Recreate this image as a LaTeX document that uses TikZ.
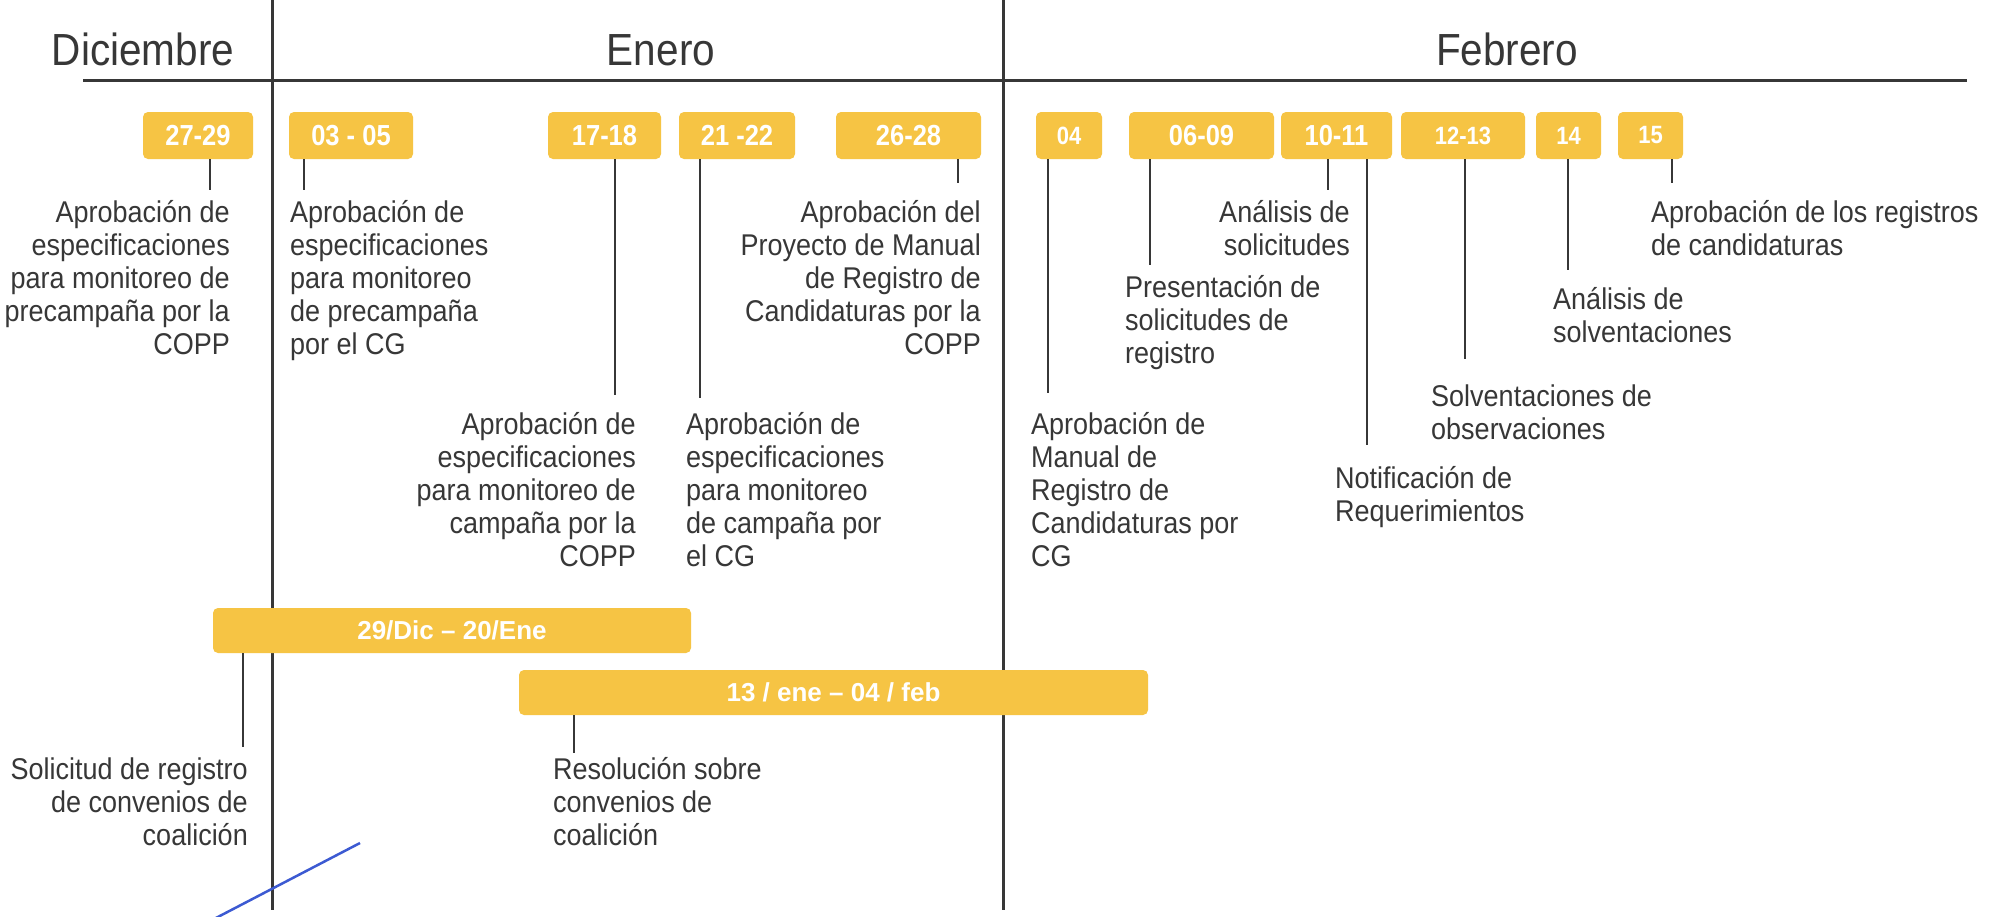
\documentclass[tikz,border=0pt]{standalone}
\usepackage{fontspec}
\setmainfont{Liberation Sans}[FakeStretch=0.9]
\newfontfamily\boxfont{Liberation Sans}[FakeStretch=0.88]
\newfontfamily\barfont{Liberation Sans}
\definecolor{gold}{RGB}{246,196,68}
\definecolor{ink}{RGB}{55,55,55}
\definecolor{pen}{RGB}{60,90,210}
\newcommand{\fl}{\rule{0pt}{30pt}}
\begin{document}
\begin{tikzpicture}[x=1pt,y=-1pt,
  datebox/.style={fill=gold, rounded corners=5pt, inner sep=0pt, text=white,
    minimum height=47pt, font=\boxfont\bfseries\fontsize{29}{29}\selectfont},
  smallbox/.style={datebox, font=\boxfont\bfseries\fontsize{25}{25}\selectfont},
  bar/.style={datebox, minimum height=45pt, font=\barfont\bfseries\fontsize{26}{26}\selectfont},
  tick/.style={draw=ink, line width=1.3pt},
  rule/.style={draw=ink, line width=3pt},
  month/.style={inner sep=0pt, text=ink, font=\fontsize{45}{45}\selectfont},
  lbl/.style={inner sep=0pt, text=ink, font=\fontsize{30}{33}\selectfont},
  lblr/.style={lbl, anchor=north east, align=right},
  lbll/.style={lbl, anchor=north west, align=left}]
\fill[white] (0,0) rectangle (1997,916);
\useasboundingbox (0,0) rectangle (1997,916);
% header
\draw[rule] (83,80) -- (1967,80);
\draw[rule] (272,0) -- (272,910);
\draw[rule] (1003,0) -- (1003,910);
\node[month, anchor=base] (dic) at (143,65) {Diciembre};
\node[month, anchor=base] (ene) at (661,65) {Enero};
\node[month, anchor=base] (feb) at (1507,65) {Febrero};
% date boxes
\node[datebox, minimum width=110pt] (b1) at (198,135.5) {27-29};
\node[datebox, minimum width=124pt] (b2) at (351,135.5) {03 - 05};
\node[datebox, minimum width=113pt] (b3) at (604.5,135.5) {17-18};
\node[datebox, minimum width=116pt] (b4) at (737,135.5) {21 -22};
\node[datebox, minimum width=145pt] (b5) at (908.5,135.5) {26-28};
\node[smallbox, minimum width=66pt] (b6) at (1069,135.5) {04};
\node[datebox, minimum width=145pt] (b7) at (1201.5,135.5) {06-09};
\node[datebox, minimum width=111pt] (b8) at (1336.5,135.5) {10-11};
\node[smallbox, minimum width=124pt] (b9) at (1463,135.5) {12-13};
\node[smallbox, minimum width=65pt] (b10) at (1568.5,135.5) {14};
\node[smallbox, minimum width=65pt] (b11) at (1650.5,135.5) {15};
% labels
\node[lblr] (l1) at (230,192) {\fl Aprobación de\\especificaciones\\para monitoreo de\\precampaña por la\\COPP};
\node[lbll] (l2) at (290,192) {\fl Aprobación de\\especificaciones\\para monitoreo\\de precampaña\\por el CG};
\node[lblr] (l3) at (636,404) {\fl Aprobación de\\especificaciones\\para monitoreo de\\campaña por la\\COPP};
\node[lbll] (l4) at (686,404) {\fl Aprobación de\\especificaciones\\para monitoreo\\de campaña por\\el CG};
\node[lblr] (l5) at (981,192) {\fl Aprobación del\\Proyecto de Manual\\de Registro de\\Candidaturas por la\\COPP};
\node[lbll] (l6) at (1031,404) {\fl Aprobación de\\Manual de\\Registro de\\Candidaturas por\\CG};
\node[lbll] (l7) at (1125,267) {\fl Presentación de\\solicitudes de\\registro};
\node[lblr] (l8) at (1350,192) {\fl Análisis de\\solicitudes};
\node[lbll] (l9) at (1335,458) {\fl Notificación de\\Requerimientos};
\node[lbll] (l10) at (1431,376) {\fl Solventaciones de\\observaciones};
\node[lbll] (l11) at (1553,279) {\fl Análisis de\\solventaciones};
\node[lbll] (l12) at (1651,192) {\fl Aprobación de los registros\\de candidaturas};
% tick ends
\coordinate (t1) at (210,190);
\coordinate (t2) at (304,190);
\coordinate (t3) at (615,395);
\coordinate (t4) at (700,398);
\coordinate (t5) at (958,183);
\coordinate (t6) at (1048,393);
\coordinate (t7) at (1150,265);
\coordinate (t8) at (1328,190);
\coordinate (t9) at (1367,445);
\coordinate (t10) at (1465,359);
\coordinate (t11) at (1568,270);
\coordinate (t12) at (1672,183);
\draw[tick] (b1.south -| t1) -- (t1);
\draw[tick] (b2.south -| t2) -- (t2);
\draw[tick] (b3.south -| t3) -- (t3);
\draw[tick] (b4.south -| t4) -- (t4);
\draw[tick] (b5.south -| t5) -- (t5);
\draw[tick] (b6.south -| t6) -- (t6);
\draw[tick] (b7.south -| t7) -- (t7);
\draw[tick] (b8.south -| t8) -- (t8);
\draw[tick] (b8.south -| t9) -- (t9);
\draw[tick] (b9.south -| t10) -- (t10);
\draw[tick] (b10.south -| t11) -- (t11);
\draw[tick] (b11.south -| t12) -- (t12);
% period bars
\node[bar, minimum width=478pt] (p1) at (452,630.5) {29/Dic – 20/Ene};
\node[bar, minimum width=629pt] (p2) at (833.5,692.5) {13 / ene – 04 / feb};
\coordinate (t13) at (243,747);
\coordinate (t14) at (574,753);
\draw[tick] (p1.south -| t13) -- (t13);
\draw[tick] (p2.south -| t14) -- (t14);
\node[lblr] (l13) at (248,749) {\fl Solicitud de registro\\de convenios de\\coalición};
\node[lbll] (l14) at (553,749) {\fl Resolución sobre\\convenios de\\coalición};
% pen stroke
\draw[pen, line width=2.5pt] (214,919) -- (360,843);
\end{tikzpicture}
\end{document}
